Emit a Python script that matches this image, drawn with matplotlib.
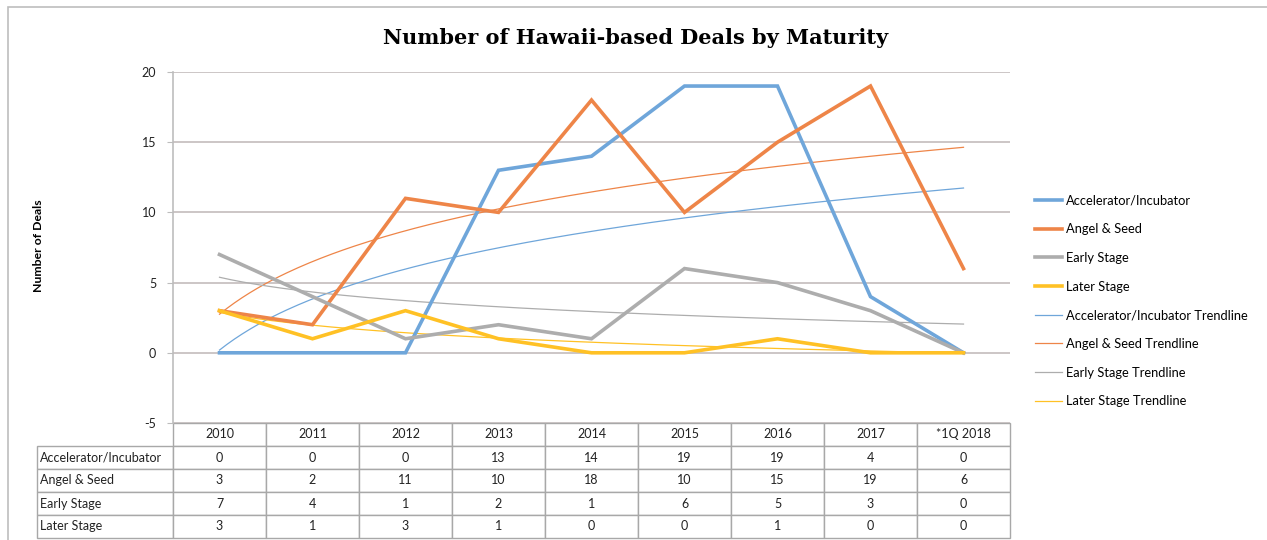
import numpy as np
import matplotlib
matplotlib.use("Agg")
import matplotlib.pyplot as plt
from matplotlib.patches import Rectangle

categories = ["2010", "2011", "2012", "2013", "2014", "2015", "2016", "2017", "*1Q 2018"]
series_names = ["Accelerator/Incubator", "Angel & Seed", "Early Stage", "Later Stage"]
accelerator = [0, 0, 0, 13, 14, 19, 19, 4, 0]
angel_seed = [3, 2, 11, 10, 18, 10, 15, 19, 6]
early_stage = [7, 4, 1, 2, 1, 6, 5, 3, 0]
later_stage = [3, 1, 3, 1, 0, 0, 1, 0, 0]
y_ticks = [-5, 0, 5, 10, 15, 20]

colors = ["#6FA6DA", "#EE8548", "#ADADAD", "#FFC125"]
series = [accelerator, angel_seed, early_stage, later_stage]

W, H = 1267, 540
fig = plt.figure(figsize=(W / 100, H / 100), dpi=100)
plt.rcParams['font.family'] = ['Lato', 'DejaVu Sans']

ax_l, ax_r, ax_t, ax_b = 173, 1010, 72, 423
ax = fig.add_axes([ax_l / W, 1 - ax_b / H, (ax_r - ax_l) / W, (ax_b - ax_t) / H])

# outer frame
fig.patches.append(Rectangle((8 / W, -0.05), 1.1, 1 - 7 / H + 0.05, transform=fig.transFigure,
                             fill=False, edgecolor="#BDBDBD", linewidth=1.2))

x = np.arange(len(categories))
for vals, c, name in zip(series, colors, series_names):
    ax.plot(x, vals, color=c, lw=2.6, label=name, solid_joinstyle="miter", zorder=3)

# logarithmic trendlines (Excel-style) fitted to the data
xf = np.linspace(1, len(categories), 200)
for vals, c, name in zip(series, colors, series_names):
    b, a = np.polyfit(np.log(np.arange(1, len(categories) + 1)), vals, 1)
    ax.plot(xf - 1, a + b * np.log(xf), color=c, lw=0.9, label=name + " Trendline", zorder=2)

ax.set_xlim(-0.5, len(categories) - 0.5)
ax.set_ylim(-5, 20)
ax.set_yticks(y_ticks)
ax.set_yticklabels([str(t) for t in y_ticks], fontsize=9, color="#222222")
ax.set_xticks([])
ax.grid(axis="y", color="#C4BCBC", lw=1.2)
ax.set_axisbelow(True)
for s in ["top", "right", "bottom"]:
    ax.spines[s].set_visible(False)
ax.spines["left"].set_color("#BDBDBD")
ax.spines["left"].set_linewidth(1.2)
ax.tick_params(axis="y", length=4, color="#BDBDBD", pad=8)

fig.text(636 / W, 1 - 38 / H, "Number of Hawaii-based Deals by Maturity",
         ha="center", va="center", fontsize=15, fontweight="bold", family="DejaVu Serif")
fig.text(38 / W, 1 - 246 / H, "Number of Deals", rotation=90, ha="center", va="center",
         fontsize=8.8, fontweight="bold")

leg = ax.legend(loc="center left", bbox_to_anchor=((1035 - ax_l) / (ax_r - ax_l), (ax_b - 301) / (ax_b - ax_t)),
                frameon=False, fontsize=9.3, handlelength=2.1, handletextpad=0.3,
                labelspacing=1.29, borderpad=0, borderaxespad=0)

# data table
cell_text = [[""] + categories]
for name, vals in zip(series_names, series):
    cell_text.append([name] + [str(v) for v in vals])
lab_w = ax_r - ax_l
col_w = [(173 - 37)] + [lab_w / len(categories)] * len(categories)
tot = sum(col_w)
tbl = ax.table(cellText=cell_text, colWidths=[w / tot for w in col_w],
               bbox=[(37 - ax_l) / lab_w, -(538 - ax_b) / (ax_b - ax_t), tot / lab_w, (538 - ax_b) / (ax_b - ax_t)],
               cellLoc="center")
tbl.auto_set_font_size(False)
for (r, c), cell in tbl.get_celld().items():
    cell.set_edgecolor("#A8A8A8")
    cell.set_linewidth(1.0)
    cell.set_text_props(fontsize=9, color="#222222")
    if c == 0:
        cell.set_text_props(ha="left")
        cell._loc = "left"
        cell.PAD = 0.025
    if r == 0 and c == 0:
        cell.visible_edges = ""

fig.savefig("out.png", dpi=100)
